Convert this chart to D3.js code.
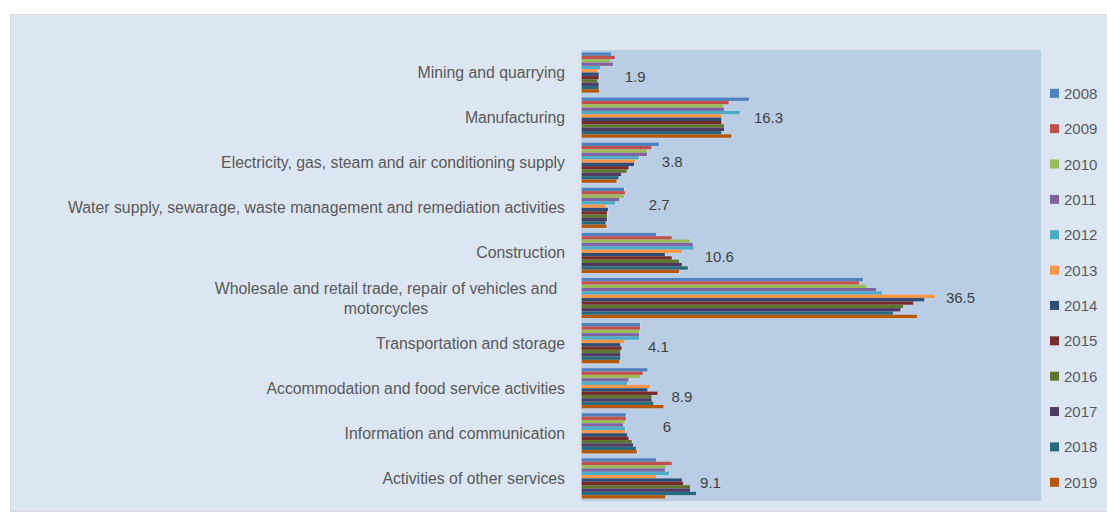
<!DOCTYPE html>
<html>
<head>
<meta charset="utf-8">
<script src="https://cdn.jsdelivr.net/npm/d3@7"></script>
<style>
  html, body { margin: 0; padding: 0; background: #ffffff; }
  svg { display: block; }
  text { font-family: "Liberation Sans", Arial, sans-serif; fill: #595959; }
</style>
</head>
<body>
<svg id="chart" width="1107" height="514"></svg>
<script>
// ---------------- DATA ----------------
const categories = [
  "Mining and quarrying",
  "Manufacturing",
  "Electricity, gas, steam and air conditioning supply",
  "Water supply, sewarage, waste management and remediation activities",
  "Construction",
  "Wholesale and retail trade, repair of vehicles and motorcycles",
  "Transportation and storage",
  "Accommodation and food service activities",
  "Information and communication",
  "Activities of other services"
];
const years = ["2008","2009","2010","2011","2012","2013","2014","2015","2016","2017","2018","2019"];

// values per category, one value per year (2008..2019)
const mining        = [3.2, 3.6, 3.1, 3.4, 2.0, 1.7, 1.85, 1.85, 1.7, 1.85, 1.85, 1.9];
const manufacturing = [18.2, 16.0, 15.35, 15.5, 17.2, 15.25, 15.2, 15.2, 15.5, 15.5, 15.2, 16.3];
const electricity   = [8.4, 7.6, 7.1, 7.1, 6.2, 5.8, 5.7, 5.1, 4.9, 4.3, 4.0, 3.8];
const water         = [4.6, 4.7, 4.6, 4.1, 3.65, 2.6, 2.85, 2.75, 2.75, 2.75, 2.6, 2.7];
const construction  = [8.1, 9.8, 11.8, 12.1, 12.2, 10.9, 9.05, 9.8, 10.6, 10.9, 11.55, 10.6];
const wholesale     = [30.6, 30.2, 31.0, 32.05, 32.7, 38.45, 37.3, 36.1, 35.0, 34.7, 33.9, 36.5];
const transport     = [6.35, 6.35, 6.25, 6.25, 6.25, 4.65, 4.2, 4.35, 4.2, 4.2, 4.2, 4.1];
const accommodation = [7.15, 6.65, 6.35, 5.1, 4.95, 7.45, 7.15, 8.25, 7.6, 7.6, 7.8, 8.9];
const information   = [4.8, 4.8, 4.7, 4.5, 4.7, 4.7, 4.95, 5.1, 5.45, 5.6, 5.9, 6];
const otherServices = [8.1, 9.8, 9.15, 9.05, 9.5, 8.1, 10.9, 11.05, 11.8, 11.8, 12.45, 9.1];
const values = [mining, manufacturing, electricity, water, construction,
                wholesale, transport, accommodation, information, otherServices];
// data labels shown (2019 values)
const labelValues = ["1.9", "16.3", "3.8", "2.7", "10.6", "36.5", "4.1", "8.9", "6", "9.1"];
const xDomainMax = 50;

// ---------------- STYLE / LAYOUT ----------------
const colors = ["#4F81BD","#C0504D","#9BBB59","#8064A2","#4BACC6","#F79646",
                "#2C4D75","#772C2A","#5F7530","#4D3B62","#276A7C","#B65708"];
// manual nudges of the data labels (dx px after the longest bar, dy px from group centre)
const labelNudge = [[10,4],[5,0],[3,-1],[24,-3],[11,4],[11,-1],[8,3.5],[8,8],[26,-7],[4,4]];
// category label line breaks (Excel wraps the long one)
const wrapped = {5: ["Wholesale and retail trade, repair of vehicles and", "motorcycles"]};

const svg = d3.select("#chart");
const W = 1107, H = 514;

// chart area
svg.append("rect").attr("x", 10.5).attr("y", 14.5).attr("width", W + 10).attr("height", 497)
  .attr("fill", "#DCE6F2").attr("stroke", "#D9D9D9").attr("stroke-width", 1);

const plot = {left: 581, top: 50, right: 1041, bottom: 501};

svg.append("rect").attr("x", plot.left).attr("y", plot.top)
  .attr("width", plot.right - plot.left).attr("height", plot.bottom - plot.top)
  .attr("fill", "#B9CDE5");

const x = d3.scaleLinear().domain([0, xDomainMax]).range([plot.left + 0.7, plot.right]);
const y0 = d3.scaleBand().domain(d3.range(categories.length))
  .range([plot.top, plot.bottom]).paddingInner(0.11).paddingOuter(0.055);
const y1 = d3.scaleBand().domain(d3.range(years.length)).range([0, y0.bandwidth()]);

// axis line
svg.append("line").attr("x1", plot.left + 0.5).attr("x2", plot.left + 0.5)
  .attr("y1", plot.top).attr("y2", plot.bottom).attr("stroke", "#C9D6E6").attr("stroke-width", 1.5);

// bars
const groups = svg.append("g").selectAll("g").data(values).join("g")
  .attr("transform", (d, i) => `translate(0,${y0(i)})`);

// soft shadow
groups.selectAll("rect.sh").data(d => d).join("rect").attr("class", "sh")
  .attr("x", x(0)).attr("y", (d, j) => y1(j) + 0.6)
  .attr("width", d => x(d) - x(0) + 1.2).attr("height", y1.bandwidth())
  .attr("fill", "#ffffff").attr("opacity", 0.25);

groups.selectAll("rect.bar").data(d => d).join("rect").attr("class", "bar")
  .attr("x", x(0)).attr("y", (d, j) => y1(j))
  .attr("width", d => x(d) - x(0)).attr("height", y1.bandwidth())
  .attr("fill", (d, j) => colors[j]);

// data labels
svg.append("g").selectAll("text").data(labelValues).join("text")
  .attr("x", (d, i) => x(d3.max(values[i])) + labelNudge[i][0])
  .attr("y", (d, i) => y0(i) + y0.bandwidth() / 2 + labelNudge[i][1])
  .attr("dominant-baseline", "central")
  .attr("font-size", 15).style("fill", "#404040")
  .text(d => d);

// category labels
const catG = svg.append("g");
categories.forEach((c, i) => {
  const cy = y0(i) + y0.bandwidth() / 2;
  if (wrapped[i]) {
    wrapped[i].forEach((ln, k) => {
      catG.append("text").attr("x", 386).attr("y", cy - 10 + k * 20)
        .attr("text-anchor", "middle").attr("dominant-baseline", "central")
        .attr("font-size", 15.8).text(ln);
    });
  } else {
    catG.append("text").attr("x", 565).attr("y", cy)
      .attr("text-anchor", "end").attr("dominant-baseline", "central")
      .attr("font-size", 15.8).text(c);
  }
});

// legend
const leg = svg.append("g").selectAll("g").data(years).join("g")
  .attr("transform", (d, i) => `translate(1050,${93.3 + i * 35.36})`);
leg.append("rect").attr("x", 0).attr("y", -4.5).attr("width", 9).attr("height", 9)
  .attr("fill", (d, i) => colors[i]);
leg.append("text").attr("x", 14).attr("y", 0).attr("dominant-baseline", "central")
  .attr("font-size", 15).text(d => d);
</script>
</body>
</html>
